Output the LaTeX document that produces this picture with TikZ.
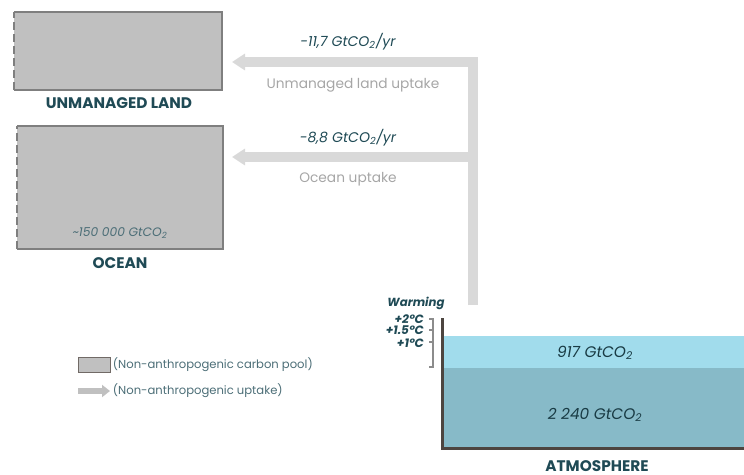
\documentclass[tikz,border=0pt]{standalone}
\usepackage{fontspec}
\setmainfont{Poppins}
\usepackage{xcolor}
\usetikzlibrary{arrows.meta, positioning, calc}
\definecolor{pool}{HTML}{C0C0C0}
\definecolor{poolline}{HTML}{7F7F7F}
\definecolor{flow}{HTML}{D9D9D9}
\definecolor{teal}{HTML}{1F4A55}
\definecolor{flowtext}{HTML}{A6A6A6}
\definecolor{atmlight}{HTML}{A1DCEC}
\definecolor{atmdark}{HTML}{87BAC8}
\definecolor{axisline}{HTML}{4D4540}
\definecolor{bracket}{HTML}{8C8C8C}
\newcommand{\cotwo}{GtCO\textsubscript{2}}
\tikzset{
  poolbox/.style={fill=pool, draw=none},
  pooledge/.style={draw=poolline, line width=1.5pt},
  pooltitle/.style={font=\bfseries\fontsize{11.5}{13}\selectfont, text=teal, inner sep=1pt},
  uptake/.style={draw=flow, line width=7.5pt, -{Triangle[length=9.75pt, width=12pt]}},
  rate/.style={font=\itshape\fontsize{10.5}{12}\selectfont, text=teal},
  flowlabel/.style={font=\fontsize{10.3}{12}\selectfont, text=flowtext},
  stock/.style={font=\itshape\fontsize{11.5}{13}\selectfont, text=teal!80!black},
  legend/.style={font=\fontsize{8.7}{10}\selectfont, text=teal!80, anchor=west, inner sep=2pt},
  level/.style={font=\bfseries\itshape\fontsize{9}{10}\selectfont, text=teal, anchor=east, inner sep=0pt}
}

\begin{document}
\begin{tikzpicture}[x=0.75pt, y=-0.75pt]
    \useasboundingbox (0,0) rectangle (744,475);

    % carbon pools
    \fill[pool] (14,12) rectangle (222,90);
    \draw[pooledge] (14,12) -- (222,12) -- (222,90) -- (14,90);
    \draw[pooledge, dash pattern=on 6pt off 3pt] (14,90) -- (14,12);
    \node[pooltitle] (land) at (119,103) {UNMANAGED LAND};

    \fill[pool] (17,126) rectangle (223,249);
    \draw[pooledge] (17,126) -- (223,126) -- (223,249) -- (17,249);
    \draw[pooledge, dash pattern=on 6pt off 3pt] (17,249) -- (17,126);
    \node[font=\itshape\fontsize{9.2}{10}\selectfont, text=teal!80] (oceanstock) at (120,233) {\textasciitilde150 000 \cotwo};
    \node[pooltitle] (ocean) at (120,263) {OCEAN};

    % atmosphere
    \fill[atmlight] (442,336) rectangle (744,368);
    \fill[atmdark] (442,368) rectangle (744,448);
    \draw[axisline, line width=2.25pt] (442,318) -- (442,448) -- (744,448);
    \node[stock] (budget) at (595,353) {917 \cotwo};
    \node[stock] (emitted) at (595,415) {2 240 \cotwo};
    \node[pooltitle] (atm) at (597,466) {ATMOSPHERE};

    % uptake flows
    \coordinate (trunk) at (472.5,305);
    \coordinate (landin) at (232,62);
    \coordinate (oceanin) at (232,157);
    \coordinate (split) at (472.5,157);
    \draw[uptake] (trunk) |- (landin);
    \draw[uptake] (split) -- (oceanin);
    \node[rate] (landrate) at (348,42) {-11,7 \cotwo/yr};
    \node[flowlabel] (landflow) at (353,85) {Unmanaged land uptake};
    \node[rate] (oceanrate) at (348,138) {-8,8 \cotwo/yr};
    \node[flowlabel] (oceanflow) at (348,179) {Ocean uptake};

    % warming levels
    \node[font=\bfseries\itshape\fontsize{8.8}{10}\selectfont, text=teal] (warm) at (416,303) {Warming};
    \node[level] (two) at (424,319) {+2°C};
    \node[level] (onefive) at (424,330) {+1.5°C};
    \node[level] (one) at (424,343) {+1°C};
    \draw[bracket, line width=1.5pt] (429,319) -- (433,319) -- (433,367) -- (429,367);
    \draw[bracket, line width=1.5pt] (429,330) -- (433,330);
    \draw[bracket, line width=1.5pt] (429,342) -- (433,342);

    % legend
    \node[draw=axisline!80, fill=pool, minimum width=24pt, minimum height=11pt, inner sep=0pt, line width=0.6pt] (keypool) at (94,365) {};
    \node[legend] (keypooltext) at (110,365) {(Non-anthropogenic carbon pool)};
    \coordinate (keystart) at (78,391);
    \coordinate (keyend) at (110,391);
    \draw[draw=pool, line width=4.5pt, -{Triangle[length=6pt, width=9pt]}] (keystart) -- (keyend);
    \node[legend] (keyflowtext) at (110,391) {(Non-anthropogenic uptake)};
\end{tikzpicture}
\end{document}
